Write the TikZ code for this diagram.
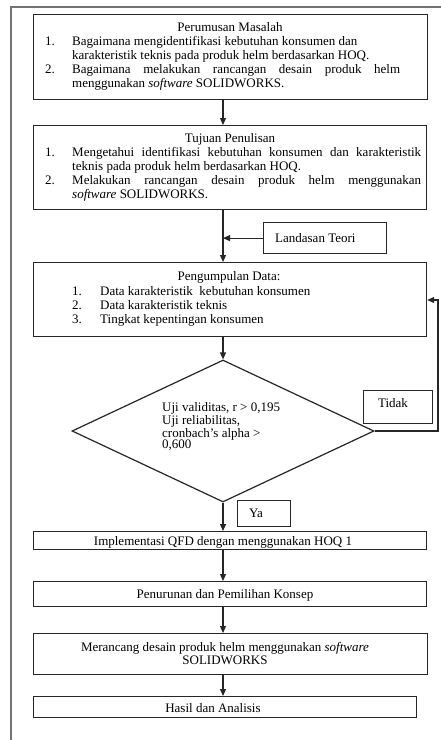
\documentclass[tikz,border=0pt]{standalone}
\usepackage{fontspec}
\setmainfont{Liberation Serif}
\usetikzlibrary{shapes.geometric,arrows.meta}
\newcommand\myfs{\fontsize{13}{14}\selectfont}
\begin{document}
\begin{tikzpicture}[x=1pt,y=-1pt,
  box/.style={draw=black!85,line width=1.2pt,inner sep=0pt,anchor=north west},
  arr/.style={draw=black!85,line width=1.2pt,-{Triangle[length=7pt,width=6pt]}},
  txt/.style={inner sep=0pt,anchor=base west,font=\myfs,align=left},
  ctxt/.style={inner sep=0pt,anchor=base,font=\myfs,align=center},
  frame/.style={draw=black!55,line width=1.5pt}]
\useasboundingbox (0,0) rectangle (441,740);
\fill[white] (0,0) rectangle (441,740);
\draw[frame] (441,7) -- (11,7) -- (11,740);
\coordinate (mx) at (223,0);
% Box 1
\node[box,minimum width=394pt,minimum height=85pt] (b1) at (33,14) {};
\node[ctxt] (t1) at (230,31) {Perumusan Masalah};
\node[txt] (n11) at (45,45) {1.};
\node[txt] (p11) at (72,59) {Bagaimana mengidentifikasi kebutuhan konsumen dan\\karakteristik teknis pada produk helm berdasarkan HOQ.};
\node[txt] (n12) at (45,73) {2.};
\node[txt] (p12) at (72,87) {\makebox[328pt][s]{Bagaimana melakukan rancangan desain produk helm}\\menggunakan \textit{software} SOLIDWORKS.};
% Box 2
\node[box,minimum width=393pt,minimum height=84pt] (b2) at (33,125) {};
\node[ctxt] (t2) at (230,142) {Tujuan Penulisan};
\node[txt] (n21) at (45,156) {1.};
\node[txt] (p21) at (72,170) {\makebox[349pt][s]{Mengetahui identifikasi kebutuhan konsumen dan karakteristik}\\teknis pada produk helm berdasarkan HOQ.};
\node[txt] (n22) at (45,184) {2.};
\node[txt] (p22) at (72,198) {\makebox[349pt][s]{Melakukan rancangan desain produk helm menggunakan}\\\textit{software} SOLIDWORKS.};
% Landasan Teori
\node[box,minimum width=123pt,minimum height=31pt] (lt) at (263,222) {};
\node[txt] (ltt) at (275,242) {Landasan Teori};
% Box 3
\node[box,minimum width=393pt,minimum height=74pt] (b3) at (33,262) {};
\node[ctxt] (t3) at (229,280) {Pengumpulan Data:};
\node[txt] (n3) at (72,323) {1.\\2.\\3.};
\node[txt] (p3) at (100,323) {Data karakteristik\ \ kebutuhan konsumen\\Data karakteristik teknis\\Tingkat kepentingan konsumen};
% Diamond
\node[draw=black!85,line width=1.2pt,shape=diamond,inner sep=0pt,minimum width=302pt,minimum height=142pt] (d) at (223,431) {};
\node[inner sep=0pt,anchor=base west,align=left,font=\fontsize{13}{11.5}\selectfont] (dt) at (162,448.5) {Uji validitas, r > 0,195\\Uji reliabilitas,\\cronbach's alpha >\\0,600};
% Tidak / Ya
\node[box,minimum width=69pt,minimum height=33pt] (td) at (363,390) {};
\node[ctxt] (tdt) at (393,407) {Tidak};
\node[box,minimum width=53pt,minimum height=26pt] (ya) at (237,500) {};
\node[ctxt] (yat) at (256,517) {Ya};
% Lower boxes
\node[box,minimum width=393pt,minimum height=18pt] (b4) at (33,531) {};
\node[ctxt] (t4) at (223,545) {Implementasi QFD dengan menggunakan HOQ 1};
\node[box,minimum width=393pt,minimum height=25pt] (b5) at (33,581) {};
\node[ctxt] (t5) at (225,598) {Penurunan dan Pemilihan Konsep};
\node[box,minimum width=394pt,minimum height=41pt] (b6) at (33,633) {};
\node[ctxt,font=\fontsize{13}{13}\selectfont] (t6) at (225,664) {Merancang desain produk helm menggunakan \textit{software}\\SOLIDWORKS};
\node[box,minimum width=383pt,minimum height=21pt] (b7) at (33,696) {};
\node[ctxt] (t7) at (213,712) {Hasil dan Analisis};
% Connectors
\coordinate (fb) at (438,300);
\draw[arr] (b1.south -| mx) -- (b2.north -| mx);
\draw[arr] (b2.south -| mx) -- (b3.north -| mx);
\draw[arr] (lt.west) -- (lt.west -| mx);
\draw[arr] (b3.south -| mx) -- (d.north);
\draw[arr] (d.east) -| (fb) -- (fb -| b3.east);
\draw[arr] (d.south) -- (b4.north -| mx);
\draw[arr] (b4.south -| mx) -- (b5.north -| mx);
\draw[arr] (b5.south -| mx) -- (b6.north -| mx);
\draw[arr] (b6.south -| mx) -- (b7.north -| mx);
\end{tikzpicture}
\end{document}
